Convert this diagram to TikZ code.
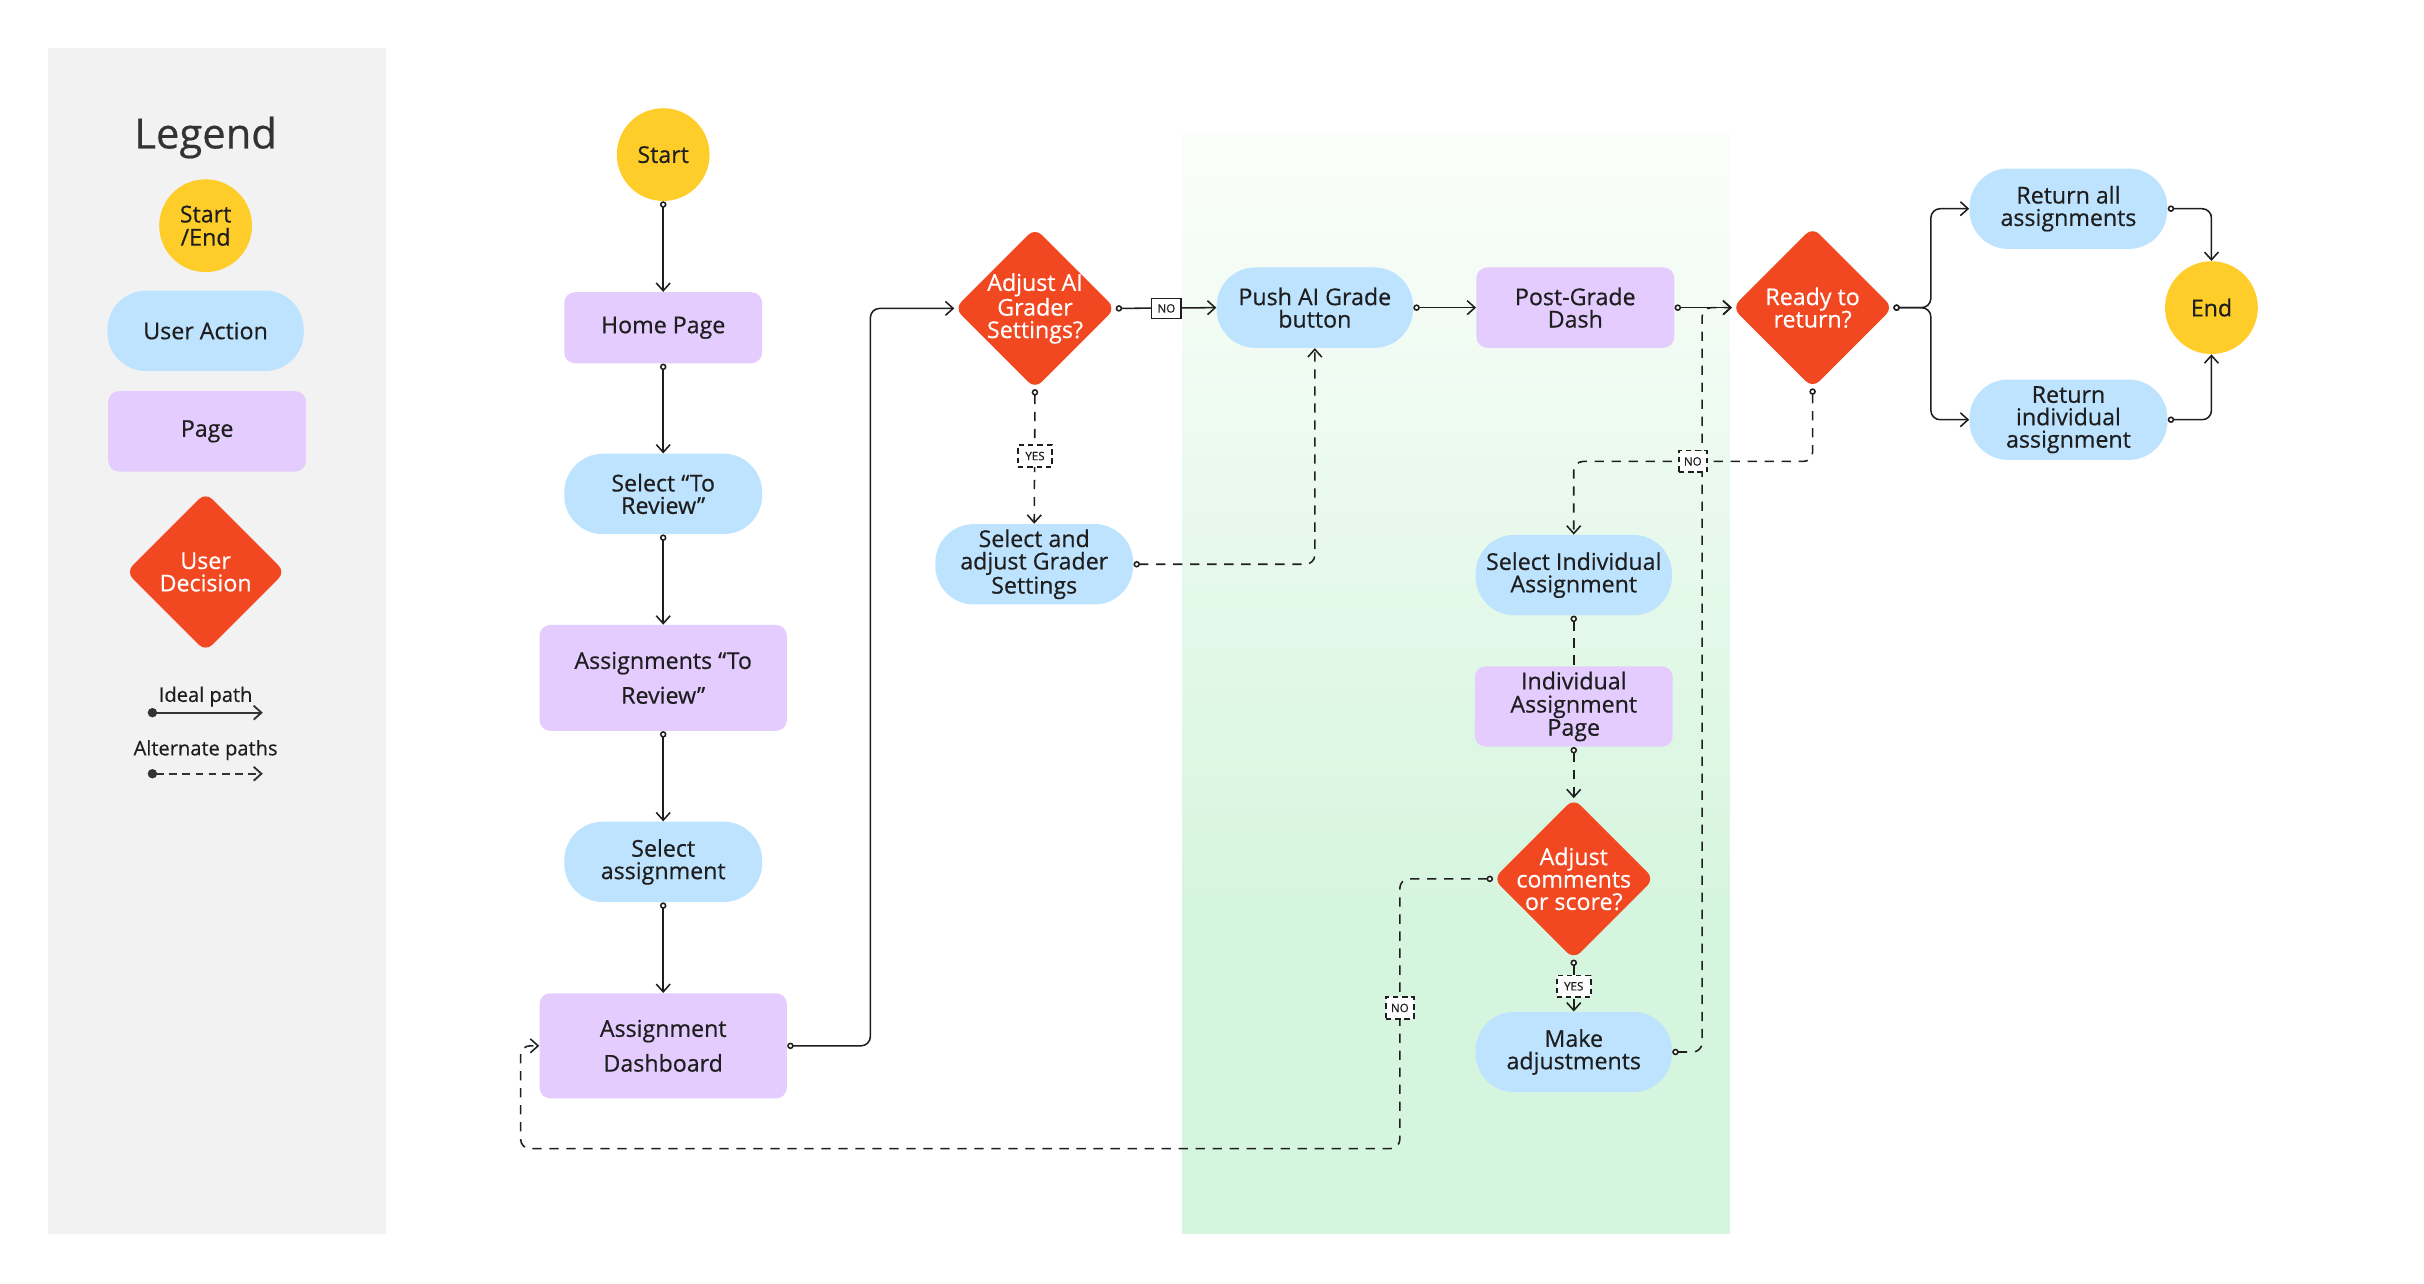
\documentclass[tikz,border=0pt]{standalone}
\usepackage{fontspec}
\setmainfont{Open Sans}[FakeBold=0.5]
\usetikzlibrary{shapes.geometric,arrows.meta}
\definecolor{cyel}{HTML}{FFCD29}
\definecolor{cblue}{HTML}{BDE3FF}
\definecolor{cpurp}{HTML}{E4CCFF}
\definecolor{cred}{HTML}{F24822}
\definecolor{cgray}{HTML}{F2F2F2}
\definecolor{cink}{HTML}{1E1E1E}
\definecolor{cleg}{HTML}{333333}
\definecolor{gbot}{HTML}{D6F5DE}
\definecolor{gtop}{HTML}{FBFEFB}
\pgfdeclareverticalshading{greenfade}{100bp}{color(0bp)=(gbot); color(25bp)=(gbot); color(40bp)=(gbot); color(75bp)=(gtop); color(100bp)=(gtop)}
\tikzset{
 base/.style={font=\fontsize{15}{14.5}\selectfont, text=cink, align=center, inner sep=1pt},
 startend/.style={base, circle, fill=cyel, minimum size=60pt, inner sep=0pt},
 action/.style={base, rectangle, rounded corners=25pt, fill=cblue, minimum width=127pt, minimum height=52pt},
 page/.style={base, rectangle, rounded corners=7pt, fill=cpurp, minimum width=128pt, minimum height=52pt},
 decision/.style={diamond, aspect=1, fill=cred, rounded corners=6pt, minimum width=104pt, minimum height=104pt, inner sep=0pt},
 dtext/.style={base, text=white},
 flow/.style={line width=1pt, draw=cink, rounded corners=6pt, {Circle[fill=white,length=4.2pt,width=4.2pt]}-{Straight Barb[length=5pt,width=9pt]}},
 flownohead/.style={line width=1pt, draw=cink, {Circle[fill=white,length=4.2pt,width=4.2pt]}-},
 alt/.style={dash pattern=on 6pt off 5pt},
 lbl/.style={draw=cink, fill=white, line width=0.9pt, font=\fontsize{7.5}{8}\selectfont, text=cink, inner sep=0pt, minimum width=19pt, minimum height=13pt},
 dlbl/.style={lbl, line width=1.1pt, dash pattern=on 3.5pt off 2.5pt, minimum width=22pt, minimum height=14pt},
 legline/.style={line width=1.2pt, draw=cleg, {Circle[length=6pt]}-{Straight Barb[length=5pt,width=9pt]}},
}
\begin{document}
\begin{tikzpicture}[x=1pt,y=-1pt]
\useasboundingbox (0,0) rectangle (1568,830);
\fill[white] (0,0) rectangle (1568,830);
% backgrounds
\fill[cgray] (31,31) rectangle (250,798);
\shade[shading=greenfade] (764.6,85.7) rectangle (1119,798);

% legend
\node[font=\fontsize{27}{30}\selectfont, text=cleg, anchor=base] (legt) at (133,96) {Legend};
\node[startend, font=\fontsize{15}{15}\selectfont] (lse) at (133,146) {Start\\/End};
\node[action] (lua) at (133,214) {User Action};
\node[page] (lpg) at (134,279) {Page};
\node[decision, minimum width=103pt, minimum height=103pt, label={[dtext]center:User\\Decision}] (lud) at (133,370) {};
\node[font=\fontsize{13}{15}\selectfont, text=cink, anchor=base] (lip) at (133,454) {Ideal path};
\coordinate (li1) at (95.6,461);
\coordinate (li2) at (170,461);
\draw[legline] (li1) -- (li2);
\node[font=\fontsize{13}{15}\selectfont, text=cink, anchor=base] (lap) at (133,488.6) {Alternate paths};
\coordinate (la1) at (95.6,500.5);
\coordinate (la2) at (170,500.5);
\draw[legline, dash pattern=on 5pt off 3.5pt] (la1) -- (la2);

% main nodes
\node[startend] (start) at (429,100) {Start};
\node[page, minimum height=46pt] (home) at (429,212) {Home Page};
\node[action, minimum width=128pt] (selrev) at (429,319.5) {Select “To\\Review”};
\node[page, minimum width=160pt, minimum height=68.5pt, font=\fontsize{15}{22.5}\selectfont] (asgrev) at (429,438.5) {Assignments “To\\Review”};
\node[action, minimum width=128pt] (selasg) at (429,557.5) {Select\\assignment};
\node[page, minimum width=160pt, minimum height=68pt, font=\fontsize{15}{22.5}\selectfont] (dash) at (429,676.5) {Assignment\\Dashboard};

\node[decision, label={[dtext]center:Adjust AI\\Grader\\Settings?}] (adjai) at (669.5,199.5) {};
\node[action, minimum width=128pt] (selset) at (669,365) {Select and\\adjust Grader\\Settings};
\node[action] (push) at (850.5,199) {Push AI Grade\\button};
\node[page] (post) at (1019,199) {Post-Grade\\Dash};
\node[decision, label={[dtext]center:Ready to\\return?}] (ready) at (1172.5,199) {};
\node[action, minimum width=128pt] (retall) at (1338,135) {Return all\\assignments};
\node[action, minimum width=128pt] (retind) at (1338,271.5) {Return\\individual\\assignment};
\node[startend] (endn) at (1430.5,199) {End};

\node[action] (selind) at (1018,372) {Select Individual\\Assignment};
\node[page, font=\fontsize{15}{15}\selectfont] (indpage) at (1018,457) {Individual\\Assignment\\Page};
\node[decision, label={[dtext]center:Adjust\\comments\\or score?}] (adjcom) at (1018,568.5) {};
\node[action] (makeadj) at (1018,680.5) {Make\\adjustments};

% ideal connectors
\draw[flow] (start.south) -- (home.north);
\draw[flow] (home.south) -- (selrev.north);
\draw[flow] (selrev.south) -- (asgrev.north);
\draw[flow] (asgrev.south) -- (selasg.north);
\draw[flow] (selasg.south) -- (dash.north);
\draw[flow] (dash.east) -- (563,676.5) -- (563,199.5) -- (adjai.west);
\draw[flow] (adjai.east) -- (push.west);
\draw[flow] (push.east) -- (post.west);
\draw[flow] (post.east) -- (ready.west);
\draw[flow] (ready.east) -- (1249,199) -- (1249,135) -- (retall.west);
\draw[flow] (ready.east) -- (1249,199) -- (1249,271.5) -- (retind.west);
\draw[flow] (retall.east) -- (1430.5,135) -- (endn.north);
\draw[flow] (retind.east) -- (1430.5,271.5) -- (endn.south);

% alternate connectors
\draw[flow, alt] (adjai.south) -- (selset.north);
\draw[flow, alt] (selset.east) -- (push.south |- selset.east) -- (push.south);
\draw[flow, alt] (ready.south) -- (1172.5,298.5) -- (1018,298.5) -- (selind.north);
\draw[flownohead, alt] (selind.south) -- (indpage.north);
\draw[flow, alt] (indpage.south) -- (adjcom.north);
\draw[flow, alt] (adjcom.south) -- (makeadj.north);
\draw[flow, alt] (adjcom.west) -- (905.5,568.5) -- (905.5,743) -- (336.8,743) -- (336.8,676.5) -- (dash.west);
\draw[flow, alt] (makeadj.east) -- (1101,680.5) -- (1101,199) -- (ready.west);

% labels
\node[lbl] (no1) at (754.5,199.5) {NO};
\node[dlbl] (yes1) at (669.5,295) {YES};
\node[dlbl, minimum width=18pt] (no2) at (1095,298.5) {NO};
\node[dlbl] (yes2) at (1018,638) {YES};
\node[dlbl, minimum width=18pt] (no3) at (905.5,652) {NO};
\end{tikzpicture}
\end{document}
